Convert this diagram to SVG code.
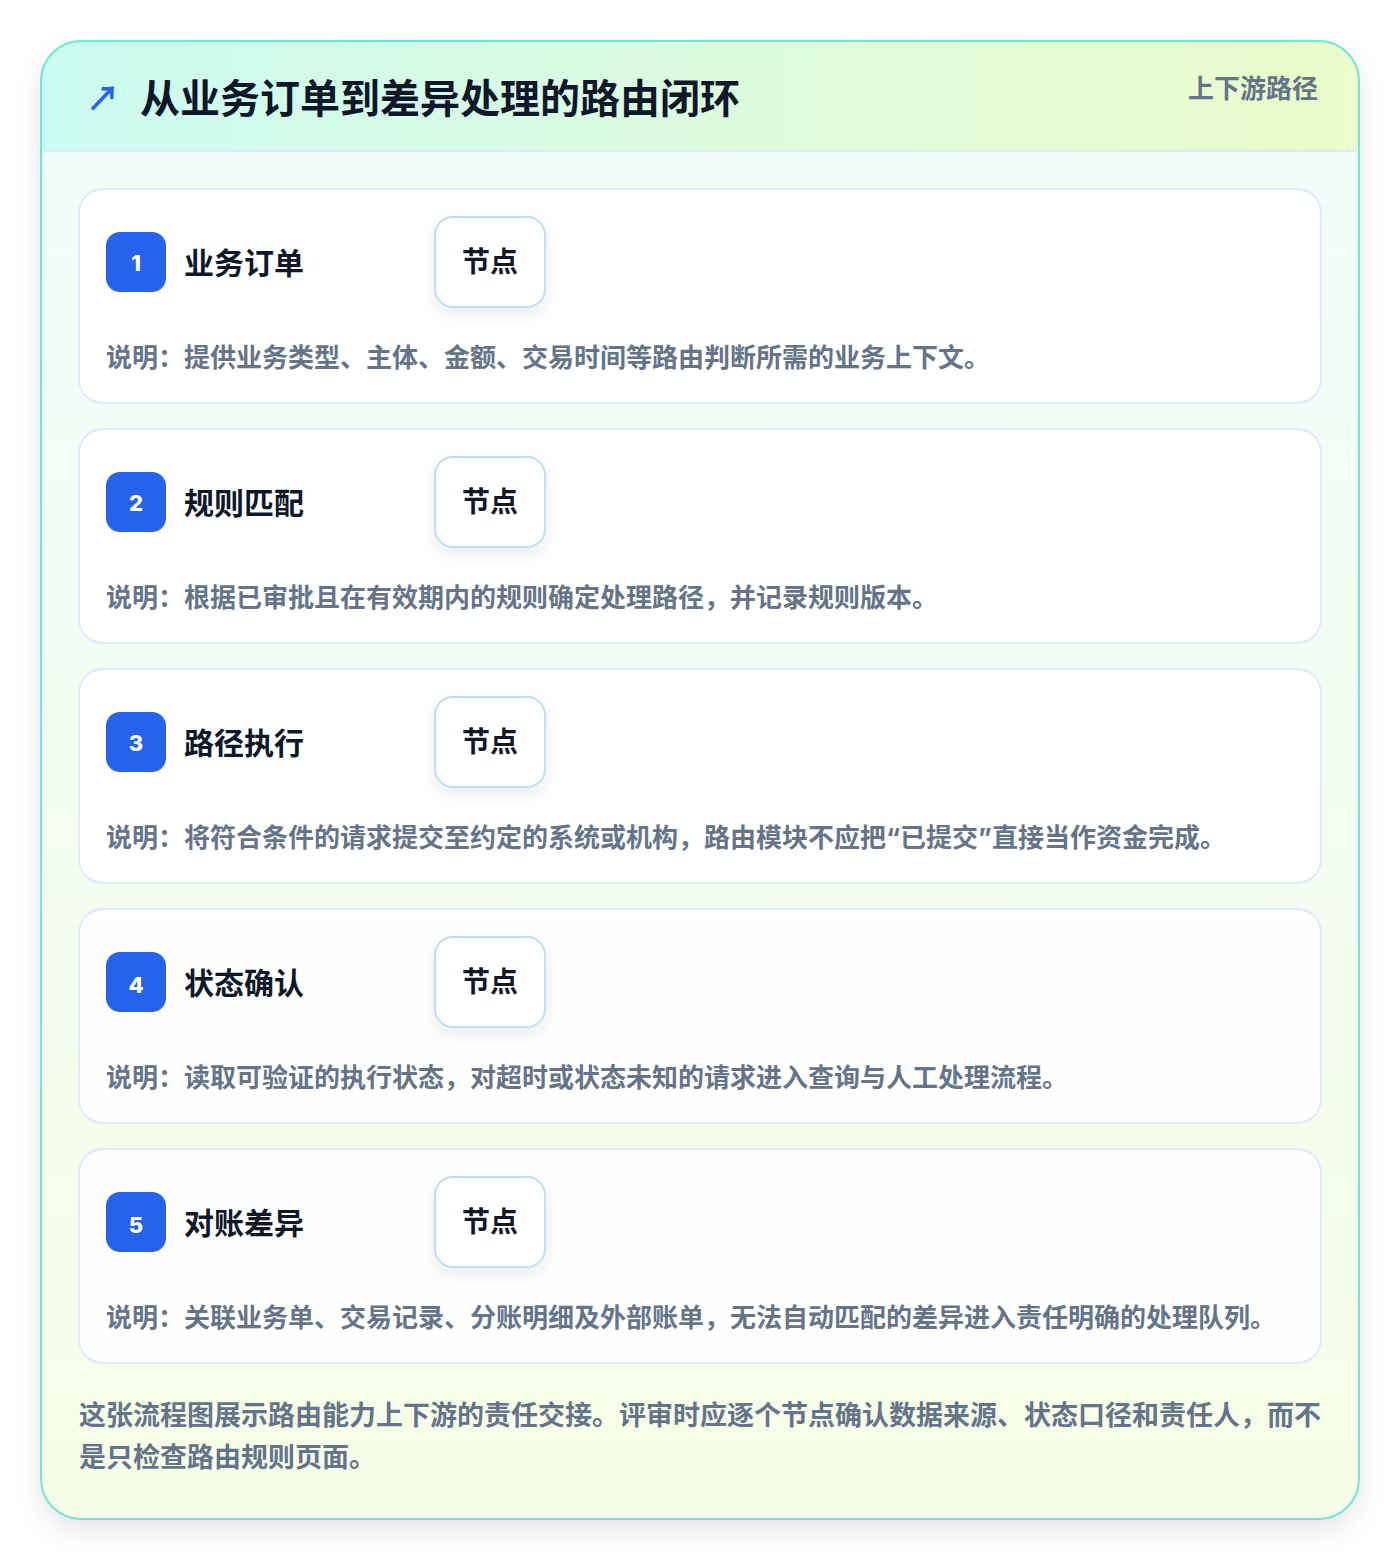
<svg xmlns="http://www.w3.org/2000/svg" width="1400" height="1560" viewBox="0 0 1400 1560">
<defs>
<linearGradient id="hdr" x1="0" y1="0" x2="1" y2="0"><stop offset="0" stop-color="#ccfbf1"/><stop offset="1" stop-color="#ecfccb"/></linearGradient>
<linearGradient id="body" x1="0" y1="0" x2="0" y2="1"><stop offset="0" stop-color="#effdfb"/><stop offset="1" stop-color="#f7fee7"/></linearGradient>
<filter id="sh" x="-10%" y="-10%" width="120%" height="120%"><feDropShadow dx="0" dy="12" stdDeviation="14" flood-color="#0f172a" flood-opacity="0.10"/></filter>
<filter id="psh" x="-40%" y="-40%" width="180%" height="180%"><feDropShadow dx="0" dy="6" stdDeviation="8" flood-color="#0f172a" flood-opacity="0.08"/></filter>
<clipPath id="clip"><rect x="41" y="41" width="1318" height="1478" rx="40"/></clipPath>
</defs>
<style>
text{font-family:"Noto Sans CJK SC","Noto Sans",sans-serif;font-weight:700}
.card{fill:#ffffff;fill-opacity:0.88;stroke:#dbeafe;stroke-width:2}
.badge{fill:#2563eb}
.num{fill:#ffffff;font-size:22px;text-anchor:middle;font-family:"Inter","Noto Sans",sans-serif;font-weight:800}
.ttl{fill:#0f172a;font-size:30px}
.pill{fill:#ffffff;stroke:#bfdbfe;stroke-width:2}
.pt{fill:#0f172a;font-size:28px;text-anchor:middle}
.desc{fill:#64748b;font-size:26px}
.foot{fill:#64748b;font-size:27px}
.q{font-family:"Inter","Noto Sans",sans-serif}
</style>
<rect width="1400" height="1560" fill="#ffffff"/>
<rect x="41" y="41" width="1318" height="1478" rx="40" fill="url(#body)" filter="url(#sh)"/>
<g clip-path="url(#clip)">
<rect x="41" y="41" width="1318" height="110" fill="url(#hdr)"/>
<line x1="41" y1="151" x2="1359" y2="151" stroke="#dbeafe" stroke-width="2"/>
</g>
<rect x="41" y="41" width="1318" height="1478" rx="40" fill="none" stroke="#6ee7d3" stroke-width="2"/>
<g id="header">
<text x="86" y="111" font-size="34" fill="#2563eb" font-family="DejaVu Sans,sans-serif">↗</text>
<text x="140" y="113" font-size="40" fill="#0f172a">从业务订单到差异处理的路由闭环</text>
<text x="1318" y="98" font-size="26" fill="#64748b" text-anchor="end">上下游路径</text>
</g>
<g id="connectors"></g>
<g id="node1">
<rect class="card" x="79" y="189" width="1242" height="214" rx="24"/>
<rect class="badge" x="106" y="232" width="60" height="60" rx="14"/>
<text class="num" x="136" y="271">1</text>
<text class="ttl" x="184" y="274">业务订单</text>
<rect class="pill" x="435" y="217" width="110" height="90" rx="18" filter="url(#psh)"/>
<text class="pt" x="490" y="272">节点</text>
<text class="desc" x="106" y="367">说明：提供业务类型、主体、金额、交易时间等路由判断所需的业务上下文。</text>
</g>
<g id="node2">
<rect class="card" x="79" y="429" width="1242" height="214" rx="24"/>
<rect class="badge" x="106" y="472" width="60" height="60" rx="14"/>
<text class="num" x="136" y="511">2</text>
<text class="ttl" x="184" y="514">规则匹配</text>
<rect class="pill" x="435" y="457" width="110" height="90" rx="18" filter="url(#psh)"/>
<text class="pt" x="490" y="512">节点</text>
<text class="desc" x="106" y="607">说明：根据已审批且在有效期内的规则确定处理路径，并记录规则版本。</text>
</g>
<g id="node3">
<rect class="card" x="79" y="669" width="1242" height="214" rx="24"/>
<rect class="badge" x="106" y="712" width="60" height="60" rx="14"/>
<text class="num" x="136" y="751">3</text>
<text class="ttl" x="184" y="754">路径执行</text>
<rect class="pill" x="435" y="697" width="110" height="90" rx="18" filter="url(#psh)"/>
<text class="pt" x="490" y="752">节点</text>
<text class="desc" x="106" y="847">说明：将符合条件的请求提交至约定的系统或机构，路由模块不应把<tspan class="q">“</tspan>已提交<tspan class="q">”</tspan>直接当作资金完成。</text>
</g>
<g id="node4">
<rect class="card" x="79" y="909" width="1242" height="214" rx="24"/>
<rect class="badge" x="106" y="952" width="60" height="60" rx="14"/>
<text class="num" x="136" y="993">4</text>
<text class="ttl" x="184" y="994">状态确认</text>
<rect class="pill" x="435" y="937" width="110" height="90" rx="18" filter="url(#psh)"/>
<text class="pt" x="490" y="992">节点</text>
<text class="desc" x="106" y="1087">说明：读取可验证的执行状态，对超时或状态未知的请求进入查询与人工处理流程。</text>
</g>
<g id="node5">
<rect class="card" x="79" y="1149" width="1242" height="214" rx="24"/>
<rect class="badge" x="106" y="1192" width="60" height="60" rx="14"/>
<text class="num" x="136" y="1233">5</text>
<text class="ttl" x="184" y="1234">对账差异</text>
<rect class="pill" x="435" y="1177" width="110" height="90" rx="18" filter="url(#psh)"/>
<text class="pt" x="490" y="1232">节点</text>
<text class="desc" x="106" y="1327">说明：关联业务单、交易记录、分账明细及外部账单，无法自动匹配的差异进入责任明确的处理队列。</text>
</g>
<g id="footer">
<text class="foot" x="79" y="1425">这张流程图展示路由能力上下游的责任交接。评审时应逐个节点确认数据来源、状态口径和责任人，而不</text>
<text class="foot" x="79" y="1467">是只检查路由规则页面。</text>
</g>
</svg>
